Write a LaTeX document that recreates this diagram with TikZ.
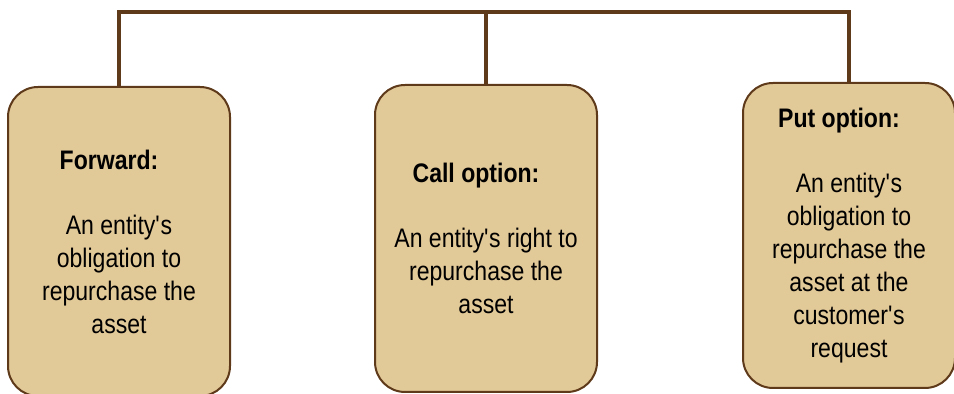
\documentclass[tikz,border=0pt]{standalone}
\usepackage{fontspec}
\setmainfont{Liberation Sans}[FakeStretch=0.86]
\definecolor{boxfill}{RGB}{226,201,152}
\definecolor{boxline}{RGB}{94,58,26}
\newcommand{\apos}{\textquotesingle}

\begin{document}
\begin{tikzpicture}[x=0.5pt, y=-0.5pt, every node/.style={font=\fontsize{13.4}{16.5}\selectfont}]
	\tikzset{
		optbox/.style={draw=boxline, line width=1pt, fill=boxfill, rounded corners=15pt, align=center, inner sep=0pt},
		link/.style={draw=boxline, line width=2pt}
	}
	\useasboundingbox (0,0) rectangle (954,394);
	% the three boxes
	\node[optbox, minimum width=111pt, minimum height=154.5pt] (fwd) at (119,241.5) {\textbf{Forward:}\hspace*{10pt}\\[16pt] An entity\apos s\\ obligation to\\ repurchase the\\ asset};
	\node[optbox, minimum width=111pt, minimum height=153.5pt] (call) at (486,238.5) {\textbf{Call option:}\hspace*{10pt}\\[16pt] An entity\apos s right to\\ repurchase the\\ asset};
	\node[optbox, minimum width=106pt, minimum height=152.5pt] (put) at (849,235.5) {\textbf{Put option:}\hspace*{10pt}\\[16pt] An entity\apos s\\ obligation to\\ repurchase the\\ asset at the\\ customer\apos s\\ request};
	% connectors
	\coordinate (bar) at (0,12);
	\draw[link] (fwd.north) |- (put.north |- bar) -- (put.north);
	\draw[link] (call.north) -- (call.north |- bar);
\end{tikzpicture}
\end{document}
